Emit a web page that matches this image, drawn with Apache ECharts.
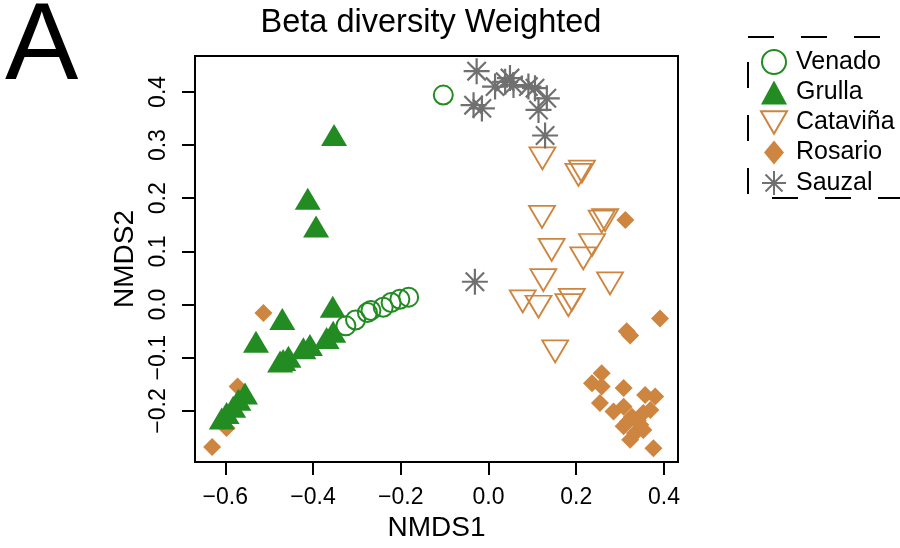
<!DOCTYPE html>
<html>
<head>
<meta charset="utf-8">
<script src="https://cdn.jsdelivr.net/npm/echarts@6/dist/echarts.min.js"></script>
<style>
  html, body { margin: 0; padding: 0; background: #fff; }
  #chart { width: 900px; height: 548px; }
</style>
</head>
<body>
<div id="chart"></div>
<script>
// NMDS ordination scores (NMDS1, NMDS2) per site
const venado = [
  [-0.325, -0.040], [-0.303, -0.029], [-0.276, -0.015], [-0.268, -0.011],
  [-0.240, -0.005], [-0.222, 0.004], [-0.202, 0.010], [-0.182, 0.014],
  [-0.103, 0.394]
];
const grulla = [
  [-0.352, 0.319], [-0.412, 0.199], [-0.393, 0.147],
  [-0.355, -0.004], [-0.470, -0.027], [-0.530, -0.070],
  [-0.354, -0.051], [-0.369, -0.063], [-0.407, -0.076], [-0.422, -0.082],
  [-0.456, -0.098], [-0.468, -0.104], [-0.475, -0.107],
  [-0.555, -0.167], [-0.570, -0.179], [-0.582, -0.192], [-0.597, -0.204], [-0.608, -0.214]
];
const catavina = [
  [0.123, 0.275], [0.205, 0.244], [0.213, 0.250], [0.122, 0.165],
  [0.258, 0.156], [0.266, 0.159], [0.144, 0.103], [0.236, 0.112],
  [0.216, 0.087], [0.125, 0.046], [0.277, 0.040], [0.078, 0.006],
  [0.114, -0.004], [0.190, 0.009], [0.182, -0.001], [0.152, -0.088]
];
const rosario = [
  [0.312, 0.159], [0.391, -0.026], [0.315, -0.050], [0.323, -0.058],
  [0.236, -0.148], [0.258, -0.129], [0.258, -0.154], [0.308, -0.157],
  [0.357, -0.170], [0.380, -0.173], [0.254, -0.185], [0.285, -0.201],
  [0.308, -0.192], [0.327, -0.211], [0.353, -0.204], [0.369, -0.198],
  [0.308, -0.229], [0.334, -0.242], [0.353, -0.236], [0.323, -0.254],
  [0.346, -0.226], [0.376, -0.270], [0.318, -0.220], [0.340, -0.218],
  [-0.513, -0.016], [-0.572, -0.154], [-0.597, -0.232], [-0.630, -0.268]
];
const sauzal = [
  [-0.027, 0.439], [-0.034, 0.375], [-0.015, 0.369], [0.015, 0.410],
  [0.038, 0.419], [0.049, 0.426], [0.057, 0.413], [0.091, 0.410],
  [0.106, 0.407], [0.133, 0.388], [0.114, 0.366], [0.129, 0.318],
  [-0.031, 0.043]
];

const xTicks = [-0.6, -0.4, -0.2, 0.0, 0.2, 0.4];
const yTicks = [-0.2, -0.1, 0.0, 0.1, 0.2, 0.3, 0.4];
const groups = ['Venado', 'Grulla', 'Cataviña', 'Rosario', 'Sauzal'];

const FONT = '"Liberation Sans", Arial, Helvetica, sans-serif';
const GREEN = '#228B22';
const PERU = '#CD853F';
const GREY = '#707070';

// asterisk: long horizontal/vertical arms, shorter diagonals
const STAR = 'path://M0,1.414L2.828,1.414M1.414,0L1.414,2.828M0.414,0.414L2.414,2.414M0.414,2.414L2.414,0.414';
const DOWN_TRI = 'path://M0,0L2,0L1,1.732Z';
const NARROW_DIAMOND = 'path://M10,0L20,12L10,24L0,12Z';

const fmt = v => (v < 0 ? '\u2212' : '') + Math.abs(v).toFixed(1);

// dashed frame around the legend (right side runs off the canvas)
const DASH = [26, 27];
const frameLine = (x1, y1, x2, y2, offset) => ({
  type: 'line', z: 10,
  shape: { x1, y1, x2, y2 },
  style: { stroke: '#000', lineWidth: 2, lineDash: DASH, lineDashOffset: offset }
});

const chart = echarts.init(document.getElementById('chart'), null, { renderer: 'canvas' });

chart.setOption({
  animation: false,
  backgroundColor: '#fff',
  title: {
    text: 'Beta diversity Weighted',
    left: 426,
    top: 2,
    textAlign: 'center',
    textStyle: { fontFamily: FONT, fontSize: 32.5, fontWeight: 'normal', color: '#000' }
  },
  graphic: [
    {
      type: 'text', left: 5, top: -6,
      style: { text: 'A', font: '110px ' + FONT, fill: '#000' }
    },
    frameLine(748, 37, 912, 37, 0),
    frameLine(748, 37, 748, 198, 28),
    frameLine(748, 198, 912, 198, 29)
  ],
  legend: {
    data: [
      { name: groups[0] },
      { name: groups[1] },
      { name: groups[2] },
      { name: groups[3], icon: NARROW_DIAMOND },
      { name: groups[4] }
    ],
    orient: 'vertical',
    left: 755,
    top: 44,
    itemWidth: 26,
    itemHeight: 24,
    itemGap: 5,
    textStyle: { fontFamily: FONT, fontSize: 25, lineHeight: 24, color: '#000', padding: [0, 0, 0, 4] }
  },
  grid: {
    left: 195, top: 56, width: 483, height: 406,
    show: true, borderColor: '#000', borderWidth: 2, backgroundColor: 'transparent'
  },
  xAxis: {
    type: 'value',
    min: -0.669, max: 0.432,
    name: 'NMDS1',
    nameLocation: 'middle',
    nameGap: 52,
    nameTextStyle: { fontFamily: FONT, fontSize: 28, color: '#000' },
    axisLine: { show: false, onZero: false },
    splitLine: { show: false },
    axisTick: { show: true, length: 13, customValues: xTicks, lineStyle: { color: '#000', width: 2 } },
    axisLabel: {
      customValues: xTicks, margin: 24, formatter: fmt,
      fontFamily: FONT, fontSize: 23, color: '#000'
    }
  },
  yAxis: {
    type: 'value',
    min: -0.296, max: 0.4675,
    name: 'NMDS2',
    nameLocation: 'middle',
    nameGap: 56,
    nameTextStyle: { fontFamily: FONT, fontSize: 28, color: '#000' },
    axisLine: { show: false, onZero: false },
    splitLine: { show: false },
    axisTick: { show: true, length: 13, customValues: yTicks, lineStyle: { color: '#000', width: 2 } },
    axisLabel: {
      customValues: yTicks, margin: 25, rotate: 90, formatter: fmt,
      fontFamily: FONT, fontSize: 23, color: '#000'
    }
  },
  series: [
    {
      name: 'Rosario', type: 'scatter', data: rosario,
      symbol: 'diamond', symbolSize: 18,
      itemStyle: { color: PERU, opacity: 1 }
    },
    {
      name: 'Grulla', type: 'scatter', data: grulla,
      symbol: 'triangle', symbolSize: [26, 22],
      itemStyle: { color: GREEN, opacity: 1 }
    },
    {
      name: 'Venado', type: 'scatter', data: venado,
      symbol: 'circle', symbolSize: 19,
      itemStyle: { color: 'rgba(255,255,255,0)', borderColor: GREEN, borderWidth: 2, opacity: 1 }
    },
    {
      name: 'Cataviña', type: 'scatter', data: catavina,
      symbol: DOWN_TRI, symbolSize: [26, 22],
      itemStyle: { color: 'rgba(255,255,255,0)', borderColor: PERU, borderWidth: 1.8, opacity: 1 }
    },
    {
      name: 'Sauzal', type: 'scatter', data: sauzal,
      symbol: STAR, symbolSize: 26,
      itemStyle: { color: 'rgba(255,255,255,0)', borderColor: GREY, borderWidth: 2.2, opacity: 1 }
    }
  ]
});
</script>
</body>
</html>
